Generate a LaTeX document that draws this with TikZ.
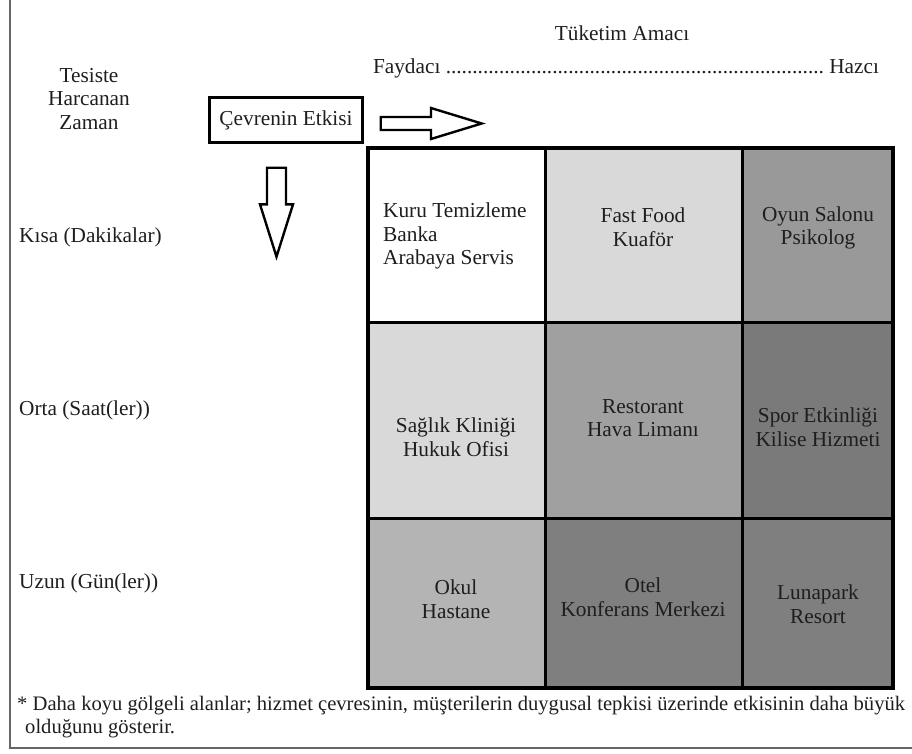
\documentclass[tikz,border=0pt]{standalone}
\usepackage{fontspec}
\setmainfont{Liberation Serif}
\usetikzlibrary{shapes.arrows,positioning}

\definecolor{tonA}{HTML}{D9D9D9}
\definecolor{tonB}{HTML}{999999}
\definecolor{tonC}{HTML}{A0A0A0}
\definecolor{tonD}{HTML}{7A7A7A}
\definecolor{tonE}{HTML}{B4B4B4}
\definecolor{tonF}{HTML}{7F7F7F}
\definecolor{yazi}{HTML}{1E1E1E}

\begin{document}
\begin{tikzpicture}[x=1pt, y=-1pt, font=\fontsize{21.3}{23.5}\selectfont, text=yazi,
    lbl/.style={inner sep=0pt, align=center},
    cell/.style={draw=black, line width=3pt},
    blockarrow/.style={single arrow, draw=black, line width=2.4pt, fill=white}]
    \useasboundingbox (0,0) rectangle (912,753);
    % frame
    \draw[line width=1.5pt, draw=black!60] (10,0) -- (10,748) -- (912,748);
    % cells
    \foreach \xa/\xb/\ya/\yb/\tone in {368/545/148/322/white, 545/742/148/322/tonA, 742/893/148/322/tonB,
        368/545/322/518/tonA, 545/742/322/518/tonC, 742/893/322/518/tonD,
        368/545/518/688/tonE, 545/742/518/688/tonF, 742/893/518/688/tonF}
      \filldraw[cell, fill=\tone] (\xa,\ya) rectangle (\xb,\yb);
    \draw[line width=3.5pt] (368,148) rectangle (893,688);
    % headings
    \node[lbl] (tuketim) at (622,33) {Tüketim Amacı};
    \node[lbl] (eksen) at (626,68) {\makebox[506pt]{Faydacı \xleaders\hbox{.}\hfill\ Hazcı}};
    \node[lbl] (tesiste) at (89,99) {Tesiste\\Harcanan\\Zaman};
    \node[draw=black, line width=3pt, inner sep=4pt, minimum width=153pt, minimum height=45pt] (etki) at (286,120) {Çevrenin Etkisi};
    % arrows
    \node[blockarrow, inner sep=5.3pt, minimum height=101pt, single arrow head extend=9pt,
      single arrow tip angle=34, anchor=tail] (sagok) at (379.5,123.5) {};
    \node[blockarrow, inner sep=8.3pt, minimum height=89pt, single arrow head extend=7pt,
      single arrow tip angle=35, shape border rotate=270, anchor=tail] (asagiok) at (276.5,166.5) {};
    % rows
    \node[lbl, anchor=west] (kisa) at (19,237) {Kısa (Dakikalar)};
    \node[lbl, anchor=west] (orta) at (19,410) {Orta (Saat(ler))};
    \node[lbl, anchor=west] (uzun) at (19,583) {Uzun (Gün(ler))};
    % cell texts
    \node[lbl, align=left, anchor=west] (k11) at (383,236) {Kuru Temizleme\\Banka\\Arabaya Servis};
    \node[lbl] (k12) at (643,227) {Fast Food\\Kuaför};
    \node[lbl] (k13) at (818,228) {Oyun Salonu\\Psikolog};
    \node[lbl] (k21) at (456,437) {Sağlık Kliniği\\Hukuk Ofisi};
    \node[lbl] (k22) at (643,418) {Restorant\\Hava Limanı};
    \node[lbl] (k23) at (818,427) {Spor Etkinliği\\Kilise Hizmeti};
    \node[lbl] (k31) at (456,599) {Okul\\Hastane};
    \node[lbl] (k32) at (643,597) {Otel\\Konferans Merkezi};
    \node[lbl] (k33) at (818,604) {Lunapark\\Resort};
    % note
    \node[lbl, align=left, anchor=north west, font=\fontsize{20.6}{22.5}\selectfont] (dipnot) at (17,696)
      {* Daha koyu gölgeli alanlar; hizmet çevresinin, müşterilerin duygusal tepkisi üzerinde etkisinin daha büyük\\
       \hspace*{8pt}olduğunu gösterir.};
\end{tikzpicture}
\end{document}
